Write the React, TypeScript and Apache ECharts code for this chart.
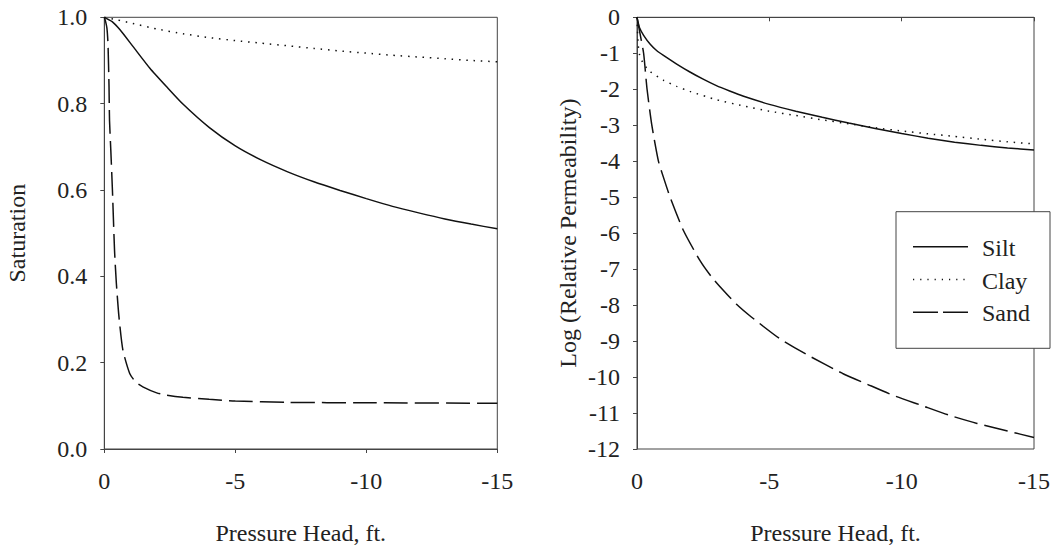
import React, { useEffect, useRef } from "react";
import * as echarts from "echarts";

// Pressure head (ft) vs saturation
const siltSat: number[][] = [
  [0, 1.0], [-0.3, 0.99], [-0.6, 0.971], [-1.1, 0.932], [-1.74, 0.882], [-2.38, 0.839], [-3, 0.799],
  [-4, 0.745], [-5, 0.702], [-6, 0.669], [-7, 0.642], [-8, 0.619], [-9, 0.599], [-10, 0.58],
  [-11, 0.562], [-12, 0.547], [-13, 0.533], [-14, 0.521], [-15, 0.51],
];
const claySat: number[][] = [
  [0, 1.0], [-0.5, 0.994], [-1, 0.987], [-2, 0.973], [-3, 0.962], [-4, 0.953], [-5, 0.946],
  [-6, 0.94], [-7, 0.934], [-8, 0.928], [-9, 0.922], [-10, 0.917], [-11, 0.912], [-12, 0.908],
  [-13, 0.904], [-14, 0.9], [-15, 0.897],
];
const sandSat: number[][] = [
  [0, 1.0], [-0.05, 0.99], [-0.1, 0.975], [-0.14, 0.94], [-0.18, 0.84], [-0.2, 0.76], [-0.25, 0.69],
  [-0.31, 0.6], [-0.39, 0.461], [-0.46, 0.384], [-0.56, 0.306], [-0.71, 0.229], [-0.97, 0.175],
  [-1.2, 0.155], [-1.47, 0.144], [-2, 0.13], [-2.37, 0.125], [-3, 0.12], [-4, 0.115], [-5, 0.111],
  [-7, 0.108], [-10, 0.107], [-15, 0.106],
];

// Pressure head (ft) vs log relative permeability
const siltKr: number[][] = [
  [0, 0], [-0.1, -0.3], [-0.25, -0.5], [-0.5, -0.75], [-0.75, -0.93], [-1, -1.06], [-1.5, -1.3],
  [-2, -1.52], [-2.5, -1.72], [-3, -1.9], [-3.5, -2.05], [-4, -2.19], [-5, -2.42], [-6, -2.61],
  [-7, -2.78], [-8, -2.94], [-9, -3.09], [-10, -3.23], [-11, -3.36], [-12, -3.47], [-13, -3.56],
  [-14, -3.63], [-15, -3.69],
];
const clayKr: number[][] = [
  [0, 0], [-0.02, -0.4], [-0.05, -0.8], [-0.1, -1.05], [-0.25, -1.3], [-0.5, -1.51], [-1, -1.75],
  [-1.5, -1.92], [-2, -2.06], [-3, -2.29], [-4, -2.46], [-5, -2.61], [-6, -2.73], [-7, -2.85],
  [-8, -2.96], [-9, -3.07], [-10, -3.16], [-11, -3.24], [-12, -3.31], [-13, -3.39], [-14, -3.46],
  [-15, -3.52],
];
const sandKr: number[][] = [
  [0, 0], [-0.05, -0.2], [-0.1, -0.4], [-0.25, -1.0], [-0.38, -2.0], [-0.56, -3.0], [-0.81, -4.0],
  [-1.0, -4.45], [-1.25, -5.0], [-1.75, -5.92], [-2.37, -6.75], [-2.8, -7.2], [-3.25, -7.58],
  [-3.75, -7.97], [-4.32, -8.33], [-5.39, -8.93], [-6.45, -9.39], [-7.77, -9.9], [-8.7, -10.2],
  [-9.65, -10.5], [-10.72, -10.78], [-11.79, -11.06], [-12.85, -11.29], [-14, -11.5], [-15, -11.68],
];

const seriesNames = ["Silt", "Clay", "Sand"];
const FONT = "Liberation Serif";
const INK = "#111";
const AXIS = "#444";
const TXT = "#222";

const DASHES: Record<string, any> = {
  Silt: "solid",
  Clay: [1.5, 5.8],
  Sand: [24, 7],
};

export default function App() {
  const ref = useRef<HTMLDivElement>(null);
  useEffect(() => {
    if (!ref.current) return;
    const chart = echarts.init(ref.current, null, { renderer: "svg" });
    const xAxisBase = (gridIndex: number) => ({
      type: "value",
      gridIndex,
      min: -15,
      max: 0,
      interval: 5,
      inverse: true,
      name: "Pressure Head, ft.",
      nameLocation: "middle",
      nameGap: 72,
      nameTextStyle: { fontFamily: FONT, fontSize: 24, color: TXT },
      axisLine: { show: true, lineStyle: { color: AXIS, width: 1 } },
      axisTick: { show: true, length: 4, lineStyle: { color: AXIS } },
      axisLabel: { fontFamily: FONT, fontSize: 24, color: TXT, margin: 20 },
      splitLine: { show: false },
    });
    const yAxisCommon = {
      type: "value",
      nameLocation: "middle",
      nameRotate: 90,
      nameTextStyle: { fontFamily: FONT, fontSize: 24, color: TXT },
      axisLine: { show: true, lineStyle: { color: AXIS, width: 1 } },
      axisTick: { show: true, length: 4, lineStyle: { color: AXIS } },
      splitLine: { show: false },
    };
    const mk = (name: string, data: number[][], idx: number) => ({
      name,
      type: "line",
      xAxisIndex: idx,
      yAxisIndex: idx,
      data,
      showSymbol: false,
      symbol: "none",
      smooth: 0.2,
      lineStyle: { type: DASHES[name], width: 1.5, color: INK },
      itemStyle: { color: INK },
      z: 3,
    });

    // legend drawn as graphics (box, sample lines, labels)
    const lgLeft = 896, lgTop = 211.7, lgW = 154, lgH = 136.6;
    const rowY = [246.7, 279.5, 312.3];
    const legendEls: any[] = [
      {
        type: "rect",
        shape: { x: lgLeft, y: lgTop, width: lgW, height: lgH },
        style: { fill: "#fff", stroke: AXIS, lineWidth: 1 },
        z: 100,
      },
    ];
    seriesNames.forEach((n, i) => {
      legendEls.push({
        type: "line",
        shape: { x1: 913, y1: rowY[i], x2: 968, y2: rowY[i] },
        style: {
          stroke: INK,
          lineWidth: 1.5,
          lineDash: n === "Sand" ? [25, 5] : n === "Clay" ? [1.2, 6] : null,
        },
        z: 101,
      });
      legendEls.push({
        type: "text",
        x: 982,
        y: rowY[i] + 1,
        style: {
          text: n,
          fontFamily: FONT,
          fontSize: 24,
          fill: TXT,
          verticalAlign: "middle",
          align: "left",
        },
        z: 101,
      });
    });

    chart.setOption({
      animation: false,
      backgroundColor: "#fff",
      textStyle: { fontFamily: FONT, fontSize: 24, color: TXT },
      grid: [
        { left: 104.3, top: 17.3, width: 393, height: 431.7, show: true, borderColor: AXIS, borderWidth: 1, backgroundColor: "transparent" },
        { left: 637, top: 17.3, width: 398.3, height: 431.7, show: true, borderColor: AXIS, borderWidth: 1, backgroundColor: "transparent" },
      ],
      xAxis: [xAxisBase(0), xAxisBase(1)],
      yAxis: [
        {
          ...yAxisCommon,
          gridIndex: 0,
          min: 0,
          max: 1,
          interval: 0.2,
          name: "Saturation",
          nameGap: 75,
          axisLabel: { fontFamily: FONT, fontSize: 24, color: TXT, margin: 17, formatter: (v: number) => v.toFixed(1) },
        },
        {
          ...yAxisCommon,
          gridIndex: 1,
          min: -12,
          max: 0,
          interval: 1,
          name: "Log (Relative Permeability)",
          nameGap: 57,
          axisLabel: { fontFamily: FONT, fontSize: 24, color: TXT, margin: 17 },
        },
      ],
      graphic: legendEls,
      series: [
        mk("Silt", siltSat, 0),
        mk("Clay", claySat, 0),
        mk("Sand", sandSat, 0),
        mk("Silt", siltKr, 1),
        mk("Clay", clayKr, 1),
        mk("Sand", sandKr, 1),
      ],
    });
    return () => chart.dispose();
  }, []);
  return (
    <div
      ref={ref}
      style={{ position: "absolute", left: 0, top: 0, width: 1053, height: 550, background: "#fff" }}
    />
  );
}
